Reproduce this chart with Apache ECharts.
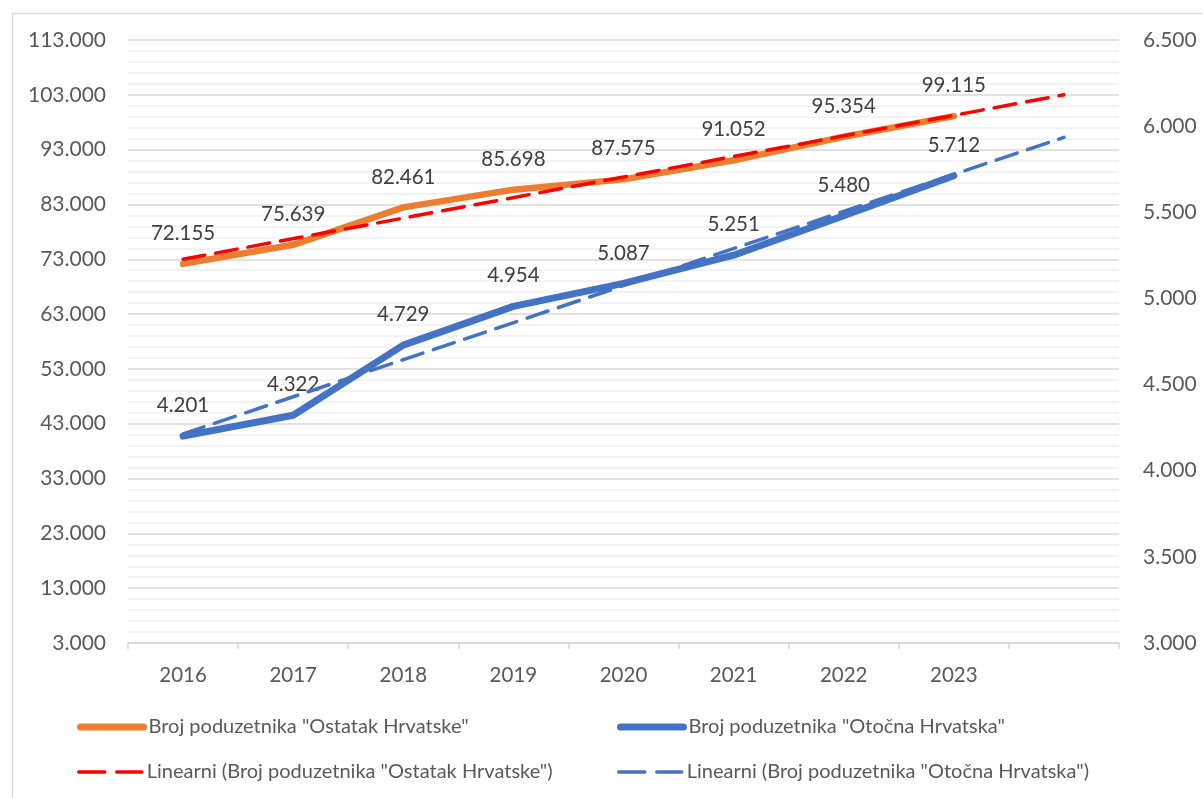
<!DOCTYPE html>
<html>
<head>
<meta charset="utf-8">
<script src="https://cdn.jsdelivr.net/npm/echarts@6/dist/echarts.min.js"></script>
<style>
html,body{margin:0;padding:0;background:#fff;}
#chart{width:1203px;height:798px;}
</style>
</head>
<body>
<div id="chart"></div>
<script>
// ---- data ----
const categories = ['2016', '2017', '2018', '2019', '2020', '2021', '2022', '2023', ''];
const ostatakHrvatske = [72155, 75639, 82461, 85698, 87575, 91052, 95354, 99115];
const otocnaHrvatska = [4201, 4322, 4729, 4954, 5087, 5251, 5480, 5712];
// linear trend lines (endpoints, one period forecast)
const trendOstatak = [73008, null, null, null, null, null, null, null, 103003];
const trendOtocna = [4214, null, null, null, null, null, null, null, 5935];
const leftTicks = { min: 3000, max: 113000, step: 10000 };
const rightTicks = { min: 3000, max: 6500, step: 500 };

const names = [
  'Broj poduzetnika "Ostatak Hrvatske"',
  'Broj poduzetnika "Otočna Hrvatska"',
  'Linearni (Broj poduzetnika "Ostatak Hrvatske")',
  'Linearni (Broj poduzetnika "Otočna Hrvatska")'
];

const FONT = 'Lato';
function fmt(v) {
  return String(Math.round(v)).replace(/\B(?=(\d{3})+(?!\d))/g, '.');
}

const chart = echarts.init(document.getElementById('chart'), null, { renderer: 'canvas' });

const legendText = { fontFamily: FONT, fontSize: 20, color: '#595959', lineHeight: 22 };
function legendAt(name, left, top, lineStyle) {
  return {
    data: [name], left: left, top: top, padding: 0,
    itemWidth: 63, itemHeight: 14, itemGap: 0,
    textStyle: legendText, selectedMode: false,
    itemStyle: { color: 'rgba(0,0,0,0)', borderWidth: 0, opacity: 0 },
    lineStyle: lineStyle
  };
}

const labelStyle = { show: true, position: 'top', distance: 20,
  formatter: p => fmt(p.value), fontFamily: FONT, fontSize: 20.5, color: '#404040' };

const option = {
  backgroundColor: '#ffffff',
  animation: false,
  graphic: [{
    type: 'rect', left: 10, top: 11,
    shape: { width: 1240, height: 820 },
    style: { fill: 'none', stroke: '#d9d9d9', lineWidth: 1.5 },
    silent: true, z: -1
  }],
  legend: [
    legendAt(names[0], 77, 716, { color: '#ED7D31', width: 7, cap: 'round', type: 'solid' }),
    legendAt(names[1], 617, 716, { color: '#4472C4', width: 7, cap: 'round', type: 'solid' }),
    legendAt(names[2], 77, 761, { color: '#FF0000', width: 3.5, cap: 'round', type: [26, 12] }),
    legendAt(names[3], 617, 761, { color: '#4472C4', width: 3.5, cap: 'round', type: [26, 12] })
  ],
  grid: { left: 128, right: 84, top: 40, bottom: 155, containLabel: false },
  xAxis: {
    type: 'category',
    data: categories,
    boundaryGap: true,
    axisLine: { show: true, lineStyle: { color: '#d9d9d9', width: 1.5 } },
    axisTick: { show: true, alignWithLabel: false, length: 6, lineStyle: { color: '#d9d9d9', width: 1.5 } },
    axisLabel: { fontFamily: FONT, fontSize: 20.5, color: '#595959', margin: 22 },
    splitLine: { show: false }
  },
  yAxis: [{
    type: 'value',
    min: leftTicks.min, max: leftTicks.max, interval: leftTicks.step,
    axisLine: { show: false }, axisTick: { show: false },
    axisLabel: { fontFamily: FONT, fontSize: 21, color: '#595959', margin: 22, formatter: fmt },
    splitLine: { show: true, lineStyle: { color: '#d9d9d9', width: 1.5 } },
    minorTick: { show: false, splitNumber: 5 },
    minorSplitLine: { show: true, lineStyle: { color: '#f0f0f0', width: 1.5 } }
  }, {
    type: 'value',
    min: rightTicks.min, max: rightTicks.max, interval: rightTicks.step,
    axisLine: { show: false }, axisTick: { show: false },
    axisLabel: { fontFamily: FONT, fontSize: 21, color: '#595959', margin: 24, formatter: fmt },
    splitLine: { show: false }
  }],
  series: [{
    name: names[0], type: 'line', yAxisIndex: 0,
    data: ostatakHrvatske, symbol: 'circle', symbolSize: 0.01, showSymbol: true, smooth: false,
    lineStyle: { color: '#ED7D31', width: 6.5, cap: 'round', join: 'round' },
    itemStyle: { color: '#ED7D31' },
    label: labelStyle,
    z: 2
  }, {
    name: names[1], type: 'line', yAxisIndex: 1,
    data: otocnaHrvatska, symbol: 'circle', symbolSize: 0.01, showSymbol: true, smooth: false,
    lineStyle: { color: '#4472C4', width: 7, cap: 'round', join: 'round' },
    itemStyle: { color: '#4472C4' },
    label: labelStyle,
    z: 2
  }, {
    name: names[2], type: 'line', yAxisIndex: 0,
    data: trendOstatak, connectNulls: true, symbol: 'none',
    lineStyle: { color: '#FF0000', width: 3.5, type: [22, 11], cap: 'round' },
    itemStyle: { color: '#FF0000' },
    z: 3
  }, {
    name: names[3], type: 'line', yAxisIndex: 1,
    data: trendOtocna, connectNulls: true, symbol: 'none',
    lineStyle: { color: '#4472C4', width: 3.5, type: [22, 11], cap: 'round' },
    itemStyle: { color: '#4472C4' },
    z: 3
  }]
};
chart.setOption(option);
</script>
</body>
</html>
